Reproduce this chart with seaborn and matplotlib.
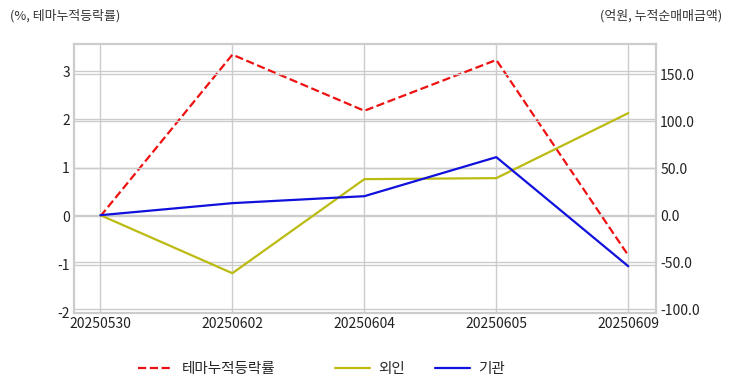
import matplotlib
matplotlib.use("Agg")
import matplotlib.pyplot as plt
import pandas as pd
import seaborn as sns

# data
dates = ["20250530", "20250602", "20250604", "20250605", "20250609"]
theme_pct = [0.0, 3.34, 2.18, 3.23, -0.81]
foreign_amt = [0.0, -61.7, 38.3, 39.4, 108.5]
inst_amt = [0.0, 12.8, 20.2, 61.7, -54.3]

sns.set_theme(style="whitegrid")
plt.rcParams["font.family"] = ["Noto Sans CJK KR", "DejaVu Sans"]
plt.rcParams["axes.unicode_minus"] = False

df = pd.DataFrame({"date": dates, "theme": theme_pct,
                   "foreign": foreign_amt, "inst": inst_amt})
df["x"] = range(len(df))

fig = plt.figure(figsize=(7.32, 3.92), dpi=100)
ax = fig.add_axes([74 / 732, 1 - 313 / 392, (656 - 74) / 732, (313 - 44) / 392])
ax2 = ax.twinx()

sns.lineplot(data=df, x="x", y="theme", ax=ax, color="#ee1111",
             linestyle="--", linewidth=1.6, label="테마누적등락률", legend=False)
sns.lineplot(data=df, x="x", y="foreign", ax=ax2, color="#bbbb11",
             linewidth=1.6, label="외인", legend=False)
sns.lineplot(data=df, x="x", y="inst", ax=ax2, color="#1111dd",
             linewidth=1.6, label="기관", legend=False)

ax.set_xlim(-0.2, 4.21)
ax.set_ylim(-2, 3.56)
ax2.set_ylim(-104, 182)
ax.set_xticks(df["x"])
ax.set_xticklabels(dates)
ax.set_yticks([-2, -1, 0, 1, 2, 3])
ax2.set_yticks([-100, -50, 0, 50, 100, 150])
ax2.set_yticklabels([f"{v:.1f}" for v in [-100, -50, 0, 50, 100, 150]])
ax.set_xlabel("")
ax.set_ylabel("")
ax2.set_ylabel("")

for a in (ax, ax2):
    a.grid(True, color="#cccccc", linewidth=1.0)
    a.tick_params(length=0, labelsize=10, colors="#222222", pad=3)
    for s in a.spines.values():
        s.set_color("#cccccc")
        s.set_linewidth(1.5)
ax2.grid(axis="x", visible=False)

fig.text(10 / 732, 1 - 16 / 392, "(%, 테마누적등락률)", fontsize=9.3,
         color="#333333", va="center", ha="left")
fig.text(722 / 732, 1 - 16 / 392, "(억원, 누적순매매금액)", fontsize=9.3,
         color="#333333", va="center", ha="right")

# two legends, one per axis, as in the reference
h1, l1 = ax.get_legend_handles_labels()
h2, l2 = ax2.get_legend_handles_labels()
leg_kw = dict(loc="center", frameon=False, fontsize=10.5,
              handlelength=2.4, handletextpad=0.6)
leg1 = fig.legend(h1, l1, bbox_to_anchor=(207 / 732, 1 - 369 / 392), **leg_kw)
fig.legend(h2, l2, ncol=2, columnspacing=2.0,
           bbox_to_anchor=(420 / 732, 1 - 369 / 392), **leg_kw)

fig.savefig("out.png", dpi=100)
